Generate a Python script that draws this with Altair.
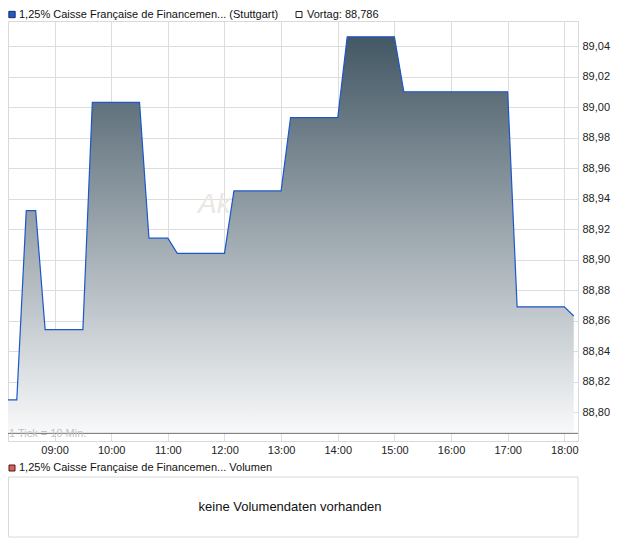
import altair as alt
import pandas as pd

# ---- data ----
times = ["08:10", "08:20", "08:30", "08:40", "08:50", "09:30", "09:40", "10:30",
         "10:40", "11:00", "11:10", "12:00", "12:10", "13:00", "13:10", "14:00",
         "14:10", "15:00", "15:10", "17:00", "17:10", "18:00", "18:10"]
prices = [88.808, 88.808, 88.932, 88.932, 88.854, 88.854, 89.003, 89.003,
          88.914, 88.914, 88.904, 88.904, 88.945, 88.945, 88.993, 88.993,
          89.046, 89.046, 89.010, 89.010, 88.869, 88.869, 88.863]
prev_close = 88.786
y_ticks = [88.80, 88.82, 88.84, 88.86, 88.88, 88.90, 88.92, 88.94, 88.96,
           88.98, 89.00, 89.02, 89.04]
x_tick_hours = [9, 10, 11, 12, 13, 14, 15, 16, 17, 18]

title_main = "1,25% Caisse Française de Financemen... (Stuttgart)"
title_prev = "Vortag: 88,786"
title_vol = "1,25% Caisse Française de Financemen... Volumen"
no_volume = "keine Volumendaten vorhanden"
tick_note = "1 Tick = 10 Min."
watermark = "Ak"

FONT = "Liberation Sans"
DAY = "2024-01-02T"

df = pd.DataFrame({"t": [DAY + t + ":00Z" for t in times], "p": prices})


def dt(h, m=0, s=0):
    return alt.DateTime(year=2024, month=1, date=2, hours=h, minutes=m, seconds=s, utc=True)


x_enc = alt.X(
    "t:T",
    scale=alt.Scale(type="utc", domain=[dt(8, 10, 40), dt(18, 14, 30)]),
    axis=alt.Axis(values=[dt(h) for h in x_tick_hours], format="%H:%M", title=None,
                  grid=True, gridColor="#dddddd", ticks=False, tickSize=0, domain=False,
                  tickCount=30,
                  labelFont=FONT, labelFontSize=11, labelColor="#222222",
                  labelPadding=3, labelFlush=False, labelOverlap=False),
)
y_enc = alt.Y(
    "p:Q",
    scale=alt.Scale(domain=[88.781, 89.0564], nice=False, zero=False),
    axis=alt.Axis(orient="right", values=y_ticks, title=None, tickCount=30,
                  labelExpr="replace(format(datum.value, '.2f'), '.', ',')",
                  grid=True, gridColor="#dddddd", ticks=False, tickSize=0, domain=False,
                  labelFont=FONT, labelFontSize=11, labelColor="#222222",
                  labelPadding=4, labelOverlap=False, labelFlush=False),
)

base = alt.Chart(df)

gradient = alt.Gradient(
    gradient="linear",
    stops=[alt.GradientStop(color="#435764", offset=0),
           alt.GradientStop(color="#f8f9fa", offset=1)],
    x1=0, x2=0, y1=0, y2=1,
)

one = pd.DataFrame({"label": [""]})


def text_layer(label, **kw):
    return alt.Chart(pd.DataFrame({"label": [label]})).mark_text(font=FONT, **kw)


HEAD_Y = -6.5

wm = text_layer(watermark, fontSize=28, fontStyle="italic", color="#ebe7e3",
                align="left", baseline="middle").encode(
    x=alt.value(190), y=alt.value(184), text="label:N")

area = base.mark_area(color=gradient, clip=True, interpolate="linear").encode(
    x=x_enc, y=y_enc, y2=alt.datum(prev_close))

line = base.mark_line(color="#1c57c9", strokeWidth=1.2, clip=True).encode(
    x="t:T", y="p:Q")

rule = alt.Chart(pd.DataFrame({"v": [prev_close]})).mark_rule(
    color="#707070", strokeWidth=1).encode(y="v:Q")

note = text_layer(tick_note, fontSize=11, color="#c2c2c2", align="left",
                  baseline="middle", dy=1).encode(
    x=alt.value(1), y=alt.datum(prev_close), text="label:N")

sq_main = alt.Chart(one).mark_square(size=40, filled=True, color="#1f5bc6",
                                     stroke="#1a2b66", strokeWidth=1, opacity=1).encode(
    x=alt.value(4), y=alt.value(HEAD_Y))
txt_main = text_layer(title_main, fontSize=11, color="#111111", align="left",
                      baseline="middle").encode(
    x=alt.value(11), y=alt.value(HEAD_Y), text="label:N")
sq_prev = alt.Chart(one).mark_square(size=36, filled=True, color="#ffffff",
                                     stroke="#222222", strokeWidth=1, opacity=1).encode(
    x=alt.value(291), y=alt.value(HEAD_Y))
txt_prev = text_layer(title_prev, fontSize=11, color="#111111", align="left",
                      baseline="middle").encode(
    x=alt.value(299), y=alt.value(HEAD_Y), text="label:N")

sq_vol = alt.Chart(one).mark_square(size=36, filled=True, color="#d9605e",
                                    stroke="#4a1a1a", strokeWidth=1, opacity=1).encode(
    x=alt.value(4), y=alt.value(447))
txt_vol = text_layer(title_vol, fontSize=11, color="#111111", align="left",
                     baseline="middle").encode(
    x=alt.value(11), y=alt.value(447), text="label:N")
vol_box = alt.Chart(one).mark_rect(fill="#ffffff", stroke="#d9d9d9", strokeWidth=1).encode(
    x=alt.value(0.5), x2=alt.value(570), y=alt.value(456), y2=alt.value(516))
vol_txt = text_layer(no_volume, fontSize=13, color="#111111", align="center",
                     baseline="middle").encode(
    x=alt.value(282), y=alt.value(486), text="label:N")

chart = alt.layer(
    wm, area, line, rule, note, sq_main, txt_main, sq_prev, txt_prev,
    vol_box, sq_vol, txt_vol, vol_txt,
).properties(
    width=570, height=420,
    autosize=alt.AutoSizeParams(type="none"),
    padding={"left": 0, "top": 13, "right": 34, "bottom": 97},
    background="#ffffff",
).configure_view(stroke="#d9d9d9", strokeWidth=1)

chart.save("out.html", embed_options={"renderer": "svg", "actions": False})
